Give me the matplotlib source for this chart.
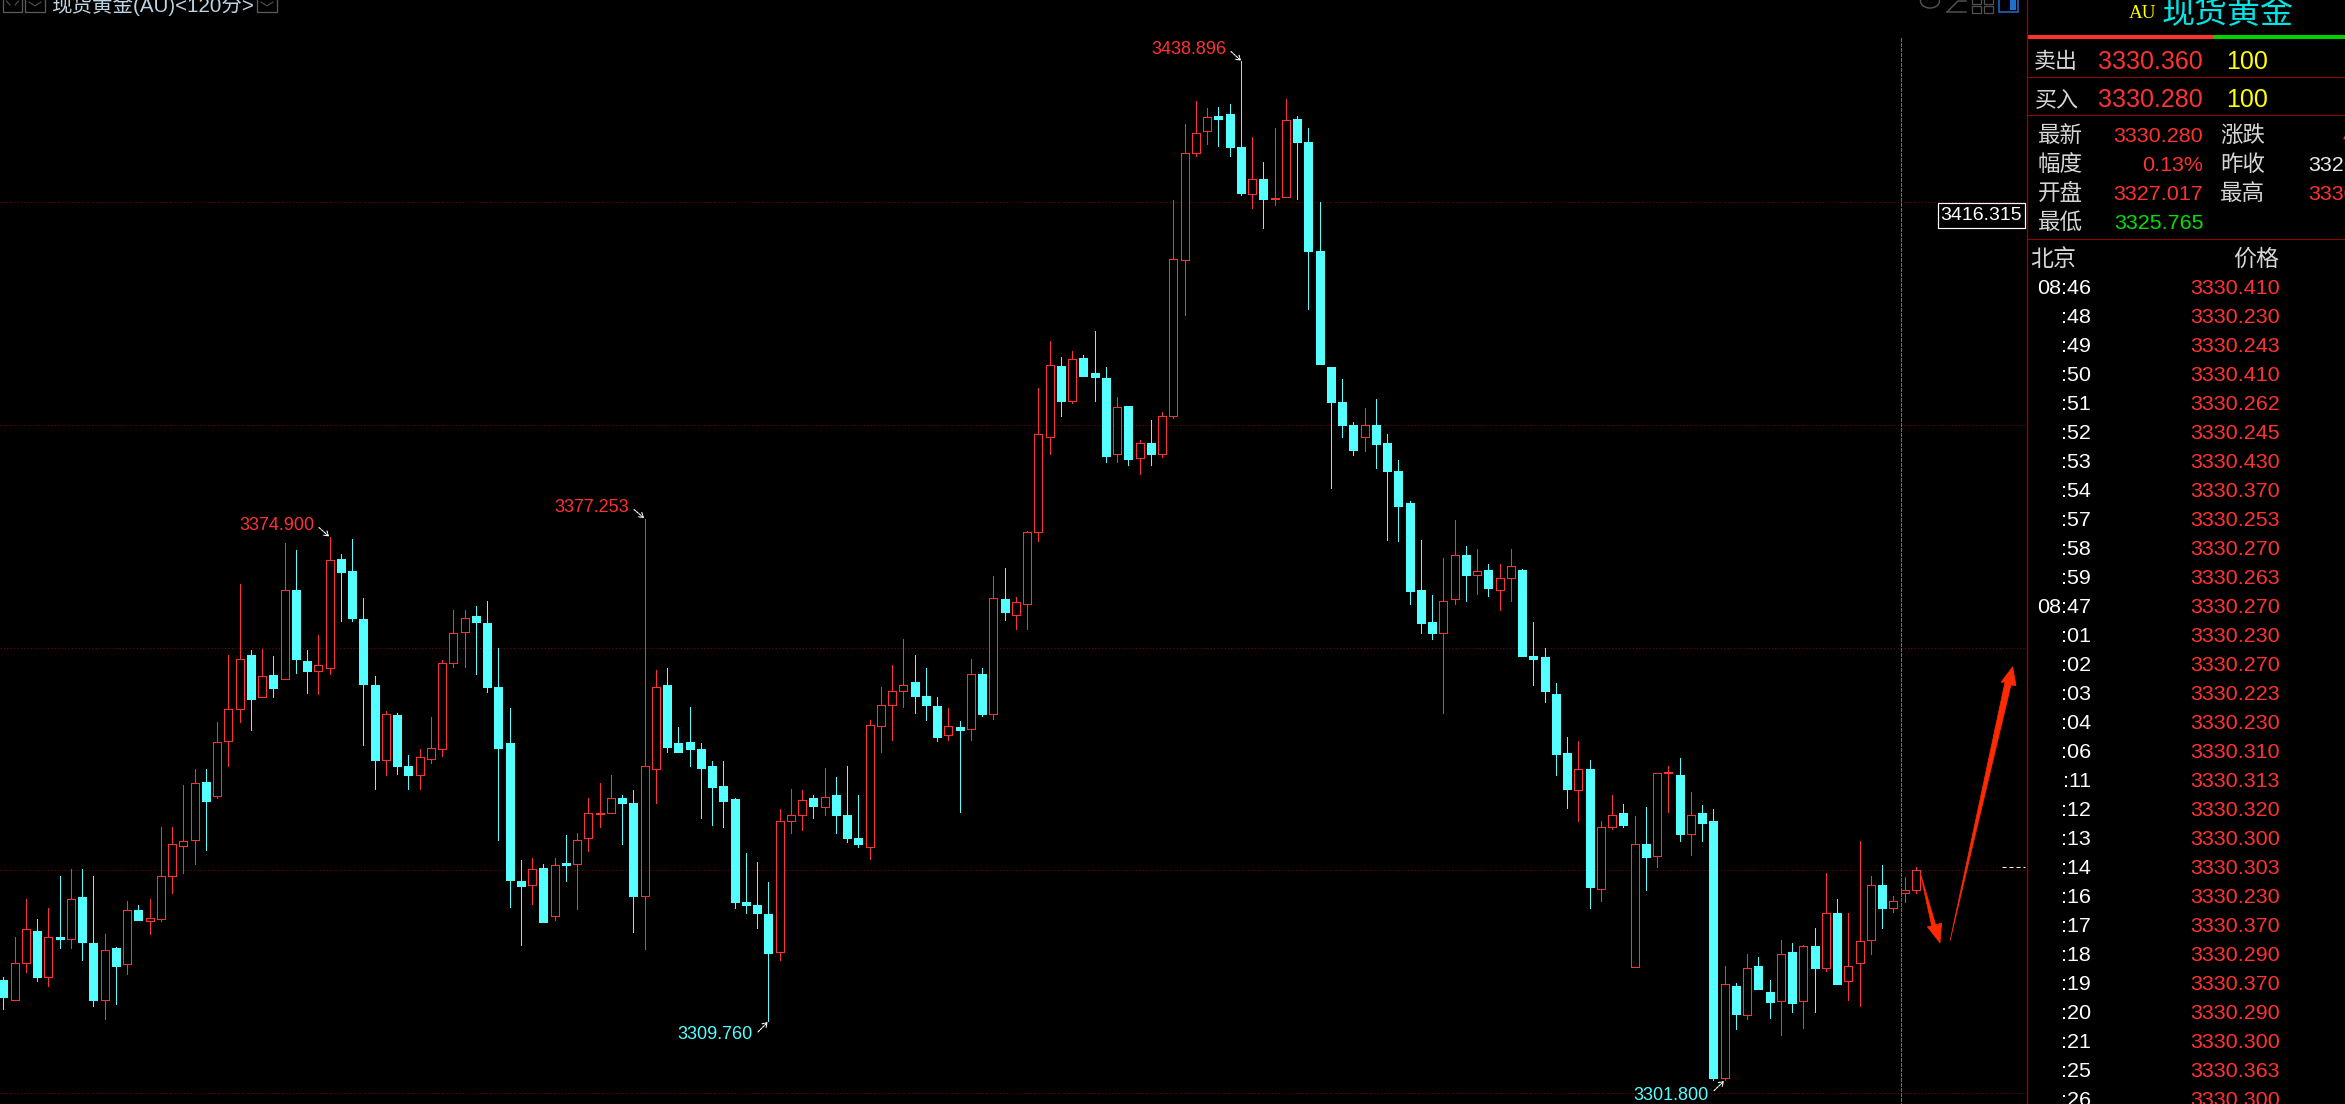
"""Gold spot 120-minute candlestick screen with the quote panel on the right."""
import matplotlib

matplotlib.use("Agg")
import matplotlib.pyplot as plt
import numpy as np
from matplotlib.patches import Ellipse, Polygon, Rectangle

plt.rcParams["font.family"] = ["Liberation Sans", "Noto Sans CJK SC", "DejaVu Sans"]

RED = "#FF3232"
CYAN = "#54FFFF"
GRID = "#8A0000"
BORDER = "#9A0000"
LABEL = "#D6D6D6"
YELLOW = "#FFFF00"
ARROW = "#FF2A00"
PX = 0.72  # points per pixel at dpi 100

opens = [
    3315.3, 3312.6, 3317.5, 3321.9, 3315.6, 3321.0, 3320.8, 3326.4, 3320.2, 3312.5,
    3319.5, 3317.4, 3324.7, 3323.2, 3323.5, 3329.3, 3333.3, 3334.1, 3341.9, 3340.0,
    3347.4, 3351.7, 3359.0, 3353.3, 3356.3, 3355.7, 3367.7, 3358.2, 3356.9, 3357.3,
    3371.9, 3370.3, 3363.8, 3355.0, 3344.8, 3350.9, 3344.0, 3342.8, 3345.0, 3346.4,
    3357.9, 3362.1, 3364.2, 3363.3, 3354.7, 3347.1, 3328.6, 3328.0, 3330.3, 3323.9,
    3331.0, 3330.9, 3334.3, 3337.6, 3337.7, 3339.8, 3339.1, 3326.6, 3343.7, 3354.9,
    3347.2, 3347.3, 3346.4, 3344.0, 3341.3, 3339.6, 3325.7, 3325.3, 3324.1, 3319.0,
    3336.6, 3337.4, 3339.8, 3338.6, 3340.1, 3337.5, 3334.3, 3333.1, 3349.5, 3352.2,
    3354.2, 3355.4, 3353.5, 3352.1, 3348.2, 3349.3, 3349.0, 3356.4, 3351.1, 3366.5,
    3364.4, 3365.9, 3375.5, 3388.3, 3397.9, 3393.2, 3399.0, 3397.0, 3396.3, 3386.0,
    3392.5, 3385.5, 3387.5, 3386.0, 3391.2, 3412.2, 3426.6, 3429.5, 3431.6, 3431.8,
    3427.4, 3421.0, 3423.1, 3420.3, 3420.7, 3431.1, 3428.1, 3413.4, 3397.8, 3393.1,
    3390.0, 3388.3, 3389.9, 3387.5, 3383.7, 3379.4, 3367.7, 3363.5, 3362.0, 3366.5,
    3372.4, 3369.8, 3370.4, 3367.7, 3369.3, 3370.4, 3358.9, 3358.7, 3353.8, 3345.8,
    3340.8, 3343.7, 3327.5, 3335.9, 3337.7, 3317.0, 3333.5, 3331.9, 3343.1, 3342.9,
    3334.9, 3337.7, 3336.6, 3302.0, 3314.5, 3310.6, 3317.1, 3313.6, 3312.4, 3319.0,
    3312.4, 3319.8, 3316.9, 3324.3, 3315.1, 3317.6, 3320.6, 3328.1, 3325.0, 3326.9,
    3327.4,
]
closes = [
    3312.9, 3317.5, 3322.1, 3315.6, 3321.1, 3320.8, 3326.2, 3320.4, 3312.6, 3319.3,
    3317.2, 3324.7, 3323.3, 3323.6, 3329.3, 3333.5, 3334.0, 3341.7, 3339.4, 3347.3,
    3351.7, 3358.5, 3353.1, 3356.2, 3354.6, 3367.7, 3358.5, 3356.8, 3357.6, 3371.8,
    3370.1, 3364.0, 3355.1, 3344.9, 3351.0, 3344.0, 3342.8, 3345.2, 3346.5, 3357.9,
    3361.9, 3364.0, 3363.4, 3354.7, 3346.5, 3328.7, 3327.9, 3330.2, 3323.0, 3330.7,
    3330.7, 3334.1, 3337.7, 3337.7, 3339.8, 3339.1, 3326.6, 3344.1, 3354.7, 3346.6,
    3345.9, 3346.4, 3343.8, 3341.2, 3339.4, 3325.7, 3325.4, 3324.2, 3318.9, 3336.7,
    3337.4, 3339.5, 3338.7, 3339.9, 3337.5, 3334.4, 3333.5, 3349.6, 3352.3, 3354.2,
    3355.0, 3353.5, 3352.2, 3348.0, 3349.5, 3348.9, 3356.4, 3351.1, 3366.6, 3364.8,
    3366.1, 3375.5, 3388.7, 3398.0, 3393.2, 3398.8, 3396.6, 3396.4, 3385.8, 3392.4,
    3385.4, 3387.5, 3386.1, 3391.2, 3412.3, 3426.5, 3429.3, 3431.4, 3431.2, 3427.3,
    3421.2, 3423.1, 3420.3, 3420.5, 3431.0, 3428.1, 3413.4, 3398.1, 3393.1, 3390.0,
    3386.6, 3389.9, 3387.4, 3383.7, 3379.1, 3367.6, 3363.3, 3362.0, 3366.3, 3372.5,
    3369.8, 3370.3, 3368.0, 3369.4, 3371.0, 3358.9, 3358.5, 3354.1, 3345.7, 3340.9,
    3343.6, 3327.7, 3335.8, 3337.4, 3336.1, 3333.5, 3331.8, 3343.1, 3343.3, 3334.9,
    3337.5, 3336.4, 3302.0, 3314.7, 3310.7, 3316.9, 3314.1, 3312.3, 3318.7, 3312.2,
    3319.8, 3316.9, 3324.3, 3314.7, 3317.2, 3320.5, 3328.1, 3325.0, 3325.9, 3327.4,
    3330.1,
]
highs = [
    3315.7, 3321.0, 3326.2, 3323.5, 3324.9, 3329.3, 3330.2, 3330.2, 3329.2, 3321.5,
    3319.7, 3325.9, 3325.3, 3326.2, 3335.9, 3335.9, 3341.5, 3343.7, 3343.7, 3350.0,
    3359.0, 3368.5, 3359.6, 3359.8, 3358.8, 3374.0, 3373.1, 3359.6, 3361.7, 3374.9,
    3372.6, 3374.6, 3366.6, 3356.1, 3351.5, 3351.2, 3345.5, 3346.4, 3350.6, 3358.3,
    3365.1, 3365.1, 3365.6, 3366.2, 3360.0, 3351.9, 3331.4, 3331.7, 3330.8, 3331.7,
    3334.8, 3335.0, 3339.8, 3341.8, 3342.8, 3340.2, 3340.8, 3377.253, 3357.0, 3357.3,
    3349.3, 3352.0, 3347.2, 3344.7, 3344.7, 3339.8, 3332.4, 3331.1, 3328.4, 3338.2,
    3340.9, 3340.8, 3340.2, 3343.8, 3342.6, 3344.0, 3340.1, 3350.2, 3354.7, 3357.6,
    3361.1, 3359.0, 3357.3, 3353.3, 3351.9, 3350.1, 3358.5, 3357.3, 3369.6, 3370.7,
    3366.8, 3375.7, 3394.9, 3401.3, 3399.1, 3399.9, 3399.4, 3402.6, 3397.7, 3393.7,
    3392.5, 3387.9, 3390.6, 3391.7, 3420.2, 3430.4, 3433.5, 3432.6, 3432.8, 3433.2,
    3438.896, 3428.7, 3425.3, 3429.9, 3433.8, 3431.5, 3429.9, 3420.0, 3397.8, 3396.1,
    3390.4, 3392.3, 3393.4, 3388.8, 3385.2, 3379.7, 3374.5, 3367.1, 3372.1, 3377.2,
    3373.7, 3373.3, 3371.2, 3371.3, 3373.3, 3370.5, 3363.4, 3360.0, 3355.2, 3348.0,
    3347.4, 3344.8, 3336.7, 3340.2, 3339.0, 3337.3, 3338.6, 3343.1, 3344.1, 3345.1,
    3340.6, 3338.8, 3338.2, 3317.1, 3314.8, 3318.7, 3318.4, 3315.2, 3320.7, 3320.2,
    3319.9, 3322.3, 3329.6, 3326.2, 3324.2, 3334.0, 3329.2, 3330.7, 3326.6, 3329.1,
    3330.4,
]
lows = [
    3311.3, 3312.6, 3316.3, 3315.1, 3314.5, 3319.6, 3319.6, 3318.0, 3311.7, 3310.0,
    3312.0, 3316.1, 3323.3, 3321.4, 3323.2, 3327.0, 3329.6, 3330.9, 3332.7, 3339.7,
    3344.1, 3350.0, 3348.9, 3353.3, 3353.4, 3355.7, 3356.6, 3353.9, 3353.7, 3356.4,
    3363.6, 3363.6, 3346.9, 3340.9, 3342.9, 3343.0, 3341.0, 3341.0, 3344.5, 3345.4,
    3357.4, 3357.4, 3356.4, 3354.0, 3334.1, 3325.1, 3320.0, 3325.5, 3323.0, 3323.3,
    3328.6, 3324.8, 3332.6, 3335.8, 3337.7, 3333.6, 3321.7, 3319.4, 3339.1, 3345.9,
    3345.9, 3344.1, 3337.0, 3336.1, 3335.8, 3325.0, 3324.3, 3322.2, 3309.76, 3318.0,
    3335.1, 3335.5, 3337.1, 3337.5, 3335.0, 3333.8, 3333.1, 3331.6, 3346.0, 3347.6,
    3352.0, 3351.2, 3350.3, 3347.4, 3347.6, 3337.8, 3347.5, 3350.8, 3350.4, 3363.7,
    3362.5, 3362.5, 3374.4, 3386.1, 3391.2, 3392.9, 3396.6, 3393.2, 3385.0, 3385.0,
    3384.5, 3383.3, 3384.6, 3385.7, 3390.9, 3404.8, 3426.2, 3427.8, 3427.5, 3426.2,
    3420.9, 3419.1, 3416.4, 3419.5, 3420.7, 3420.3, 3405.5, 3398.1, 3381.5, 3388.4,
    3385.9, 3386.4, 3384.1, 3374.5, 3374.4, 3365.9, 3361.9, 3361.2, 3351.2, 3365.8,
    3366.2, 3367.2, 3367.0, 3365.0, 3366.3, 3358.9, 3355.0, 3352.6, 3342.9, 3338.4,
    3336.6, 3324.9, 3325.9, 3335.6, 3335.8, 3317.0, 3327.4, 3330.4, 3337.9, 3333.9,
    3332.1, 3334.0, 3301.8, 3301.8, 3308.6, 3310.0, 3314.1, 3310.2, 3307.8, 3311.0,
    3308.8, 3311.0, 3316.4, 3314.7, 3312.6, 3311.8, 3318.8, 3322.3, 3324.4, 3325.8,
    3327.0,
]
grid_prices = [3420, 3390, 3360, 3330, 3300]
last_price = 3330.28

tick_times = [
    "08:46", ":48", ":49", ":50", ":51", ":52", ":53", ":54", ":57", ":58",
    ":59", "08:47", ":01", ":02", ":03", ":04", ":06", ":11", ":12", ":13",
    ":14", ":16", ":17", ":18", ":19", ":20", ":21", ":25", ":26",
]
tick_prices = [
    "3330.410", "3330.230", "3330.243", "3330.410", "3330.262", "3330.245",
    "3330.430", "3330.370", "3330.253", "3330.270", "3330.263", "3330.270",
    "3330.230", "3330.270", "3330.223", "3330.230", "3330.310", "3330.313",
    "3330.320", "3330.300", "3330.303", "3330.230", "3330.370", "3330.290",
    "3330.370", "3330.290", "3330.300", "3330.363", "3330.300",
]

fig = plt.figure(figsize=(23.45, 11.04), dpi=100, facecolor="black")

# price chart, left of the panel border
ax = fig.add_axes([0, 0, 2027 / 2345, 1], facecolor="black")
ax.set_xlim(-0.296, 179.88)
ax.set_ylim(3298.56, 3447.15)
ax.axis("off")

for price in grid_prices:
    ax.axhline(price, color=GRID, lw=PX, linestyle=(0, (1, 2.4)), zorder=1)

x = np.arange(len(opens))
o, c, h, l = map(np.array, (opens, closes, highs, lows))
up = c >= o
top = np.maximum(o, c)
bot = np.minimum(o, c)
for mask, color in ((up, RED), (~up, CYAN)):
    ax.vlines(x[mask], top[mask], h[mask], color=color, lw=PX, zorder=2, antialiased=False)
    ax.vlines(x[mask], l[mask], bot[mask], color=color, lw=PX, zorder=2, antialiased=False)
ax.bar(x[up], (top - bot)[up], bottom=bot[up], width=0.711, facecolor="black",
       edgecolor=RED, linewidth=PX, zorder=3, antialiased=False)
ax.bar(x[~up], (top - bot)[~up], bottom=bot[~up], width=0.711, facecolor=CYAN,
       edgecolor=CYAN, linewidth=PX, zorder=3, antialiased=False)
ax.plot([177.7, 179.7], [last_price + 0.15] * 2, color="#FFFFC0", lw=PX,
        linestyle=(0, (4, 3)), zorder=2)

# everything else is placed in screen pixels
ov = fig.add_axes([0, 0, 1, 1], facecolor="none")
ov.set_xlim(0, 2345)
ov.set_ylim(1104, 0)
ov.axis("off")


def put(px, py, s, color, size, ha="left", **kw):
    ov.text(px, py, s, color=color, fontsize=size * PX, ha=ha, va="center", **kw)


ov.plot([1900.5, 1900.5], [38, 1104], color=RED, lw=PX * 1.2, linestyle=(0, (2.6, 1.1)), antialiased=False)

# peak / trough labels with their small arrows
peak_labels = [
    ("3374.900", 314, 525.7, RED, (319, 527.5), (329, 536.5)),
    ("3377.253", 629, 507.7, RED, (634, 509.5), (644, 518)),
    ("3438.896", 1226, 49.7, RED, (1231, 51.5), (1241, 60.7)),
    ("3309.760", 752.7, 1034.7, CYAN, (758, 1032), (767.7, 1022)),
    ("3301.800", 1708.3, 1095.7, CYAN, (1714, 1090.7), (1724, 1081)),
]
for text, tx, ty, color, start, end in peak_labels:
    put(tx, ty, text, color, 18, ha="right")
    ov.annotate("", xy=end, xytext=start,
                arrowprops=dict(arrowstyle="->,head_length=0.3,head_width=0.2", color="white",
                                lw=0.8, shrinkA=0, shrinkB=0, linestyle=(0, (2, 1))))

# hand-drawn forecast arrows
ov.add_patch(Polygon([(1920, 872), (1935.7, 925), (1941.7, 923), (1940, 943), (1927.3, 926.7),
                      (1931.7, 926)], closed=True, facecolor=ARROW, edgecolor=ARROW, lw=0.5, zorder=5))
ov.add_patch(Polygon([(1950, 941), (2005, 682), (2001, 682.3), (2012.7, 666.7), (2016, 685.7),
                      (2011, 685)], closed=True, facecolor=ARROW, edgecolor=ARROW, lw=0.5, zorder=5))

# price box
ov.add_patch(Rectangle((1937.5, 202.5), 87, 25, facecolor="black", edgecolor="white", lw=PX * 1.2, zorder=6))
ov.text(1981, 215.7, "3416.315", color="white", fontsize=19.5 * PX, ha="center", va="center", zorder=7)

# title row and toolbar buttons
for bx in (2.7, 25.3, 257):
    ov.add_patch(Rectangle((bx, -4), 19.5, 16, facecolor="none", edgecolor="#5A5A5A", lw=PX * 1.3))
ov.plot([29, 35, 41], [2, 6, 2], color="#5A5A5A", lw=PX)
ov.plot([261, 267, 273], [2, 6, 2], color="#5A5A5A", lw=PX)
ov.plot([6.5, 10], [1, 5], color="#5A5A5A", lw=PX)
ov.plot([15, 18.5], [5, 1], color="#5A5A5A", lw=PX)
put(51, 5, "现货黄金(AU)<120分>", "#BFD4E2", 20.5)

# chart icons, top right
ov.add_patch(Ellipse((1930, 1), 19, 14, facecolor="none", edgecolor="#505050", lw=PX * 1.5))
ov.plot([1947, 1958, 1966], [12, 1, 1], color="#505050", lw=PX * 1.5)
ov.plot([1947, 1966], [12, 12], color="#505050", lw=PX * 1.5)
for bx, by in ((1972, -3), (1984, -3), (1972, 6), (1984, 6)):
    ov.add_patch(Rectangle((bx, by), 9, 6.5, facecolor="none", edgecolor="#505050", lw=PX * 1.3))
ov.add_patch(Rectangle((1999, -4), 19, 16, facecolor="none", edgecolor="#1F6FD0", lw=PX * 1.5))
ov.add_patch(Rectangle((2010, -2), 6, 12, facecolor="#1F6FD0", lw=0))

# quote panel
ov.plot([2026.7, 2026.7], [0, 1104], color=BORDER, lw=PX * 1.3)
for py in (77.3, 115.3, 238.7):
    ov.plot([2027, 2345], [py, py], color=BORDER, lw=PX)
ov.add_patch(Rectangle((2027, 35), 186.3, 4, facecolor=RED, lw=0))
ov.add_patch(Rectangle((2213.3, 35), 132, 4, facecolor="#00D400", lw=0))

put(2143, 14, "AU", YELLOW, 19, ha="center", family="Liberation Serif")
put(2228, 14, "现货黄金", "#00E5E5", 33, ha="center")

put(2034, 62.5, "卖出", LABEL, 22)
put(2203, 62, "3330.360", RED, 25, ha="right")
put(2226, 62, "100", YELLOW, 25)
put(2034.5, 100.5, "买入", LABEL, 22)
put(2203, 100, "3330.280", RED, 25, ha="right")
put(2226, 100, "100", YELLOW, 25)

quote_rows = [
    (136.8, "最新", "3330.280", RED),
    (165.8, "幅度", "0.13%", RED),
    (194.8, "开盘", "3327.017", RED),
    (223.8, "最低", "3325.765", "#00E000"),
]
for py, name, value, color in quote_rows:
    put(2038, py, name, LABEL, 22.5)
    put(2203.3, py, value, color, 21.5, ha="right")
for py, name in ((136.8, "涨跌"), (165.8, "昨收"), (194.8, "最高")):
    put(2220, py, name, LABEL, 22.5)
put(2342.5, 136.8, "4", RED, 21.5)
put(2308, 165.8, "3326", "#E8E8E8", 21.5)
put(2308, 194.8, "3330", RED, 21.5)

put(2030, 259.5, "北京", LABEL, 23)
put(2233, 259.5, "价格", LABEL, 23)
for row, (t, p) in enumerate(zip(tick_times, tick_prices)):
    py = 288.5 + 29 * row
    put(2091, py, t, "white", 21.5, ha="right")
    put(2280, py, p, RED, 21.5, ha="right")

fig.savefig("out.png", dpi=100, facecolor="black")
